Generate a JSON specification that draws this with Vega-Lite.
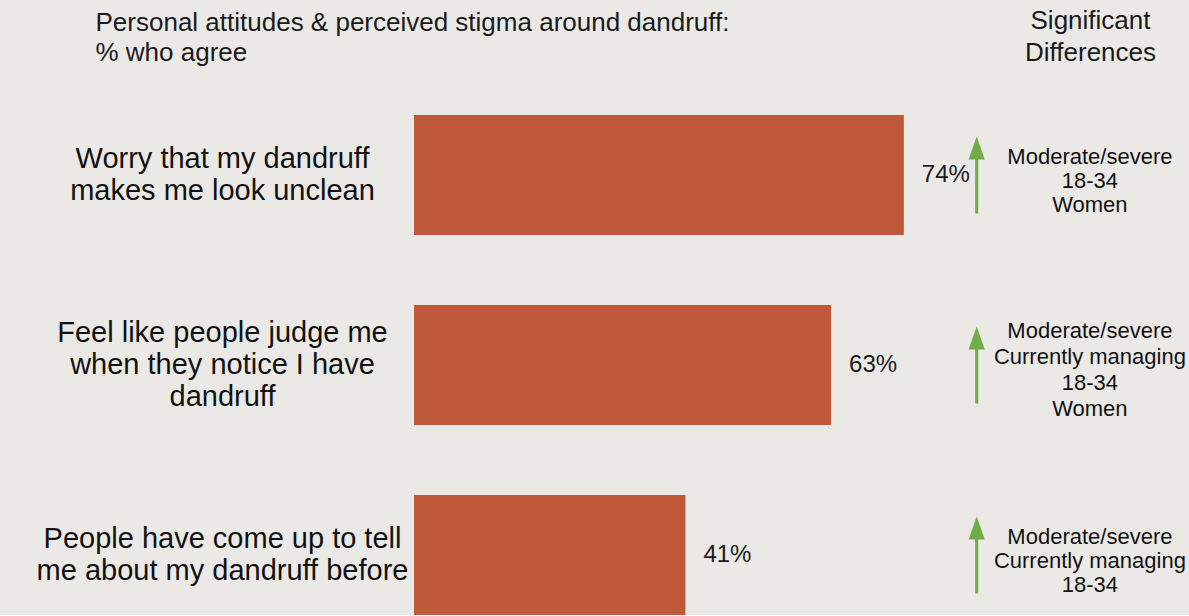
{
  "$schema": "https://vega.github.io/schema/vega-lite/v6.json",
  "autosize": {"type": "none"},
  "padding": {"top": 115, "left": 414, "right": 0, "bottom": 0},
  "width": 775,
  "height": 500,
  "background": "#ebe9e6",
  "config": {"view": {"stroke": null}, "font": "Liberation Sans"},
  "data": {
    "values": [
      {"cat": "Worry that my dandruff|makes me look unclean", "pct": 0.74, "sig": "Moderate/severe|18-34|Women"},
      {"cat": "Feel like people judge me|when they notice I have|dandruff", "pct": 0.63, "sig": "Moderate/severe|Currently managing|18-34|Women"},
      {"cat": "People have come up to tell|me about my dandruff before", "pct": 0.41, "sig": "Moderate/severe|Currently managing|18-34"}
    ]
  },
  "encoding": {
    "y": {
      "field": "cat",
      "type": "nominal",
      "sort": null,
      "scale": {"paddingInner": 0.3684, "paddingOuter": 0},
      "axis": {
        "title": ["Personal attitudes & perceived stigma around dandruff:", "% who agree"],
        "titleAngle": 0,
        "titleX": -319,
        "titleY": -93,
        "titleAlign": "left",
        "titleAnchor": null,
        "titleBaseline": "middle",
        "titleFont": "Liberation Sans",
        "titleFontSize": 26,
        "titleFontWeight": "normal",
        "titleLineHeight": 30,
        "titleColor": "#1a1a1a",
        "domain": false,
        "ticks": false,
        "labelExpr": "split(datum.label, '|')",
        "labelAlign": "center",
        "labelBaseline": "middle",
        "labelPadding": 192,
        "labelFont": "Liberation Sans",
        "labelFontSize": 29,
        "labelLineHeight": 32,
        "labelOffset": {"condition": {"test": "indexof(datum.label, 'notice') >= 0", "value": -32}, "value": -16},
        "labelColor": "#111111",
        "labelLimit": 0
      }
    }
  },
  "layer": [
    {
      "mark": {"type": "bar", "color": "#c0583a"},
      "encoding": {
        "x": {
          "field": "pct",
          "type": "quantitative",
          "scale": {"domain": [0, 1.1707], "nice": false},
          "axis": {
            "orient": "top",
            "title": ["Significant", "Differences"],
            "labels": false,
            "ticks": false,
            "domain": false,
            "grid": false,
            "titleX": 676,
            "titleY": -95,
            "titleAlign": "center",
            "titleAnchor": null,
            "titleBaseline": "middle",
            "titleFont": "Liberation Sans",
            "titleFontSize": 26,
            "titleFontWeight": "normal",
            "titleLineHeight": 32,
            "titleColor": "#1a1a1a"
          }
        }
      }
    },
    {
      "mark": {"type": "text", "align": "center", "baseline": "middle", "dx": 42, "fontSize": 24, "font": "Liberation Sans", "color": "#1a1a1a"},
      "encoding": {
        "x": {"field": "pct", "type": "quantitative"},
        "text": {"field": "pct", "type": "quantitative", "format": ".0%"}
      }
    },
    {
      "mark": {
        "type": "point",
        "shape": "M0,-1L0.21,-0.4L0.04,-0.4L0.04,1L-0.04,1L-0.04,-0.4L-0.21,-0.4Z",
        "size": 5929,
        "filled": true,
        "opacity": 1,
        "color": "#70ad47",
        "strokeWidth": 0
      },
      "encoding": {
        "x": {"datum": 0.85}
      }
    },
    {
      "transform": [{"filter": "length(split(datum.sig, '|')) == 3"}],
      "mark": {"type": "text", "align": "center", "baseline": "middle", "lineBreak": "|", "font": "Liberation Sans", "fontSize": 22, "lineHeight": 24, "dy": -18, "color": "#111111"},
      "encoding": {
        "x": {"datum": 1.021},
        "text": {"field": "sig", "type": "nominal"}
      }
    },
    {
      "transform": [{"filter": "length(split(datum.sig, '|')) == 4"}],
      "mark": {"type": "text", "align": "center", "baseline": "middle", "lineBreak": "|", "font": "Liberation Sans", "fontSize": 22, "lineHeight": 26, "dy": -34, "color": "#111111"},
      "encoding": {
        "x": {"datum": 1.021},
        "text": {"field": "sig", "type": "nominal"}
      }
    }
  ]
}
